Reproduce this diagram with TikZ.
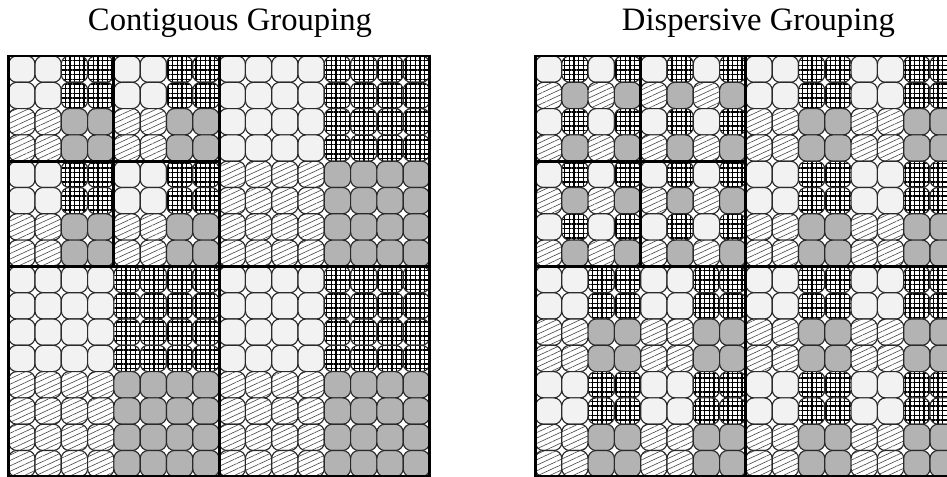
\documentclass[tikz,border=0pt]{standalone}
\usepackage{fontspec}
\setmainfont{Liberation Serif}
\usetikzlibrary{patterns.meta}

\definecolor{cellline}{HTML}{2A2A2A}
\definecolor{lightfill}{HTML}{F2F2F2}
\definecolor{darkfill}{HTML}{B3B3B3}
\definecolor{hatchline}{HTML}{444444}

\begin{document}
\begin{tikzpicture}[
  x=0.75pt, y=-0.75pt,
  title/.style={font=\fontsize{24.5}{29}\selectfont, anchor=base},
  tile/.style={draw=cellline, line width=0.85pt, rounded corners=6pt},
  lightcell/.style={tile, fill=lightfill},
  gridcell/.style={tile, preaction={fill=white},
    preaction={pattern={Lines[angle=0,distance=3.5pt,line width=0.9pt]}, pattern color=black},
    pattern={Lines[angle=90,distance=3.5pt,line width=0.9pt]}, pattern color=black},
  hatchcell/.style={tile, preaction={fill=white}, pattern={Lines[angle=25,distance=3.7pt,line width=0.45pt]}, pattern color=hatchline},
  darkcell/.style={tile, fill=darkfill},
  cell/.code={\ifcase#1\relax\pgfkeysalso{lightcell}\or\pgfkeysalso{gridcell}\or\pgfkeysalso{hatchcell}\else\pgfkeysalso{darkcell}\fi},
  border/.style={draw=black, line width=2.2pt}
]
\clip (0,0) rectangle (947,476);
\def\cellsz{26.3}
\def\gtop{56}

% titles
\node[title] (contig) at (230,30) {Contiguous Grouping};
\node[title] (dispers) at (758.5,30) {Dispersive Grouping};

% cells: divisor 2 = contiguous quarters, 4 = dispersive
\foreach \gx/\mode in {8.7/2, 535.5/4} {
  \foreach \bx/\by/\bn in {0/0/4, 4/0/4, 0/4/4, 4/4/4, 8/0/8, 0/8/8, 8/8/8} {
    \pgfmathtruncatemacro\unit{\bn/\mode}
    \pgfmathtruncatemacro\last{\bn-1}
    \foreach \i in {0,...,\last} {
      \foreach \j in {0,...,\last} {
        \pgfmathtruncatemacro\q{mod(floor(\i/\unit),2)+2*mod(floor(\j/\unit),2)}
        \path[cell=\q] ({\gx+(\bx+\i)*\cellsz},{\gtop+(\by+\j)*\cellsz}) rectangle ++(\cellsz,\cellsz);
      }
    }
  }
}

% block borders
\foreach \gx in {8.7, 535.5} {
  \draw[border] (\gx,\gtop) rectangle ++({16*\cellsz},{16*\cellsz});
  \draw[border] ({\gx+8*\cellsz},\gtop) -- ++(0,{16*\cellsz});
  \draw[border] (\gx,{\gtop+8*\cellsz}) -- ++({16*\cellsz},0);
  \draw[border] ({\gx+4*\cellsz},\gtop) -- ++(0,{8*\cellsz});
  \draw[border] (\gx,{\gtop+4*\cellsz}) -- ++({8*\cellsz},0);
}
\end{tikzpicture}
\end{document}
